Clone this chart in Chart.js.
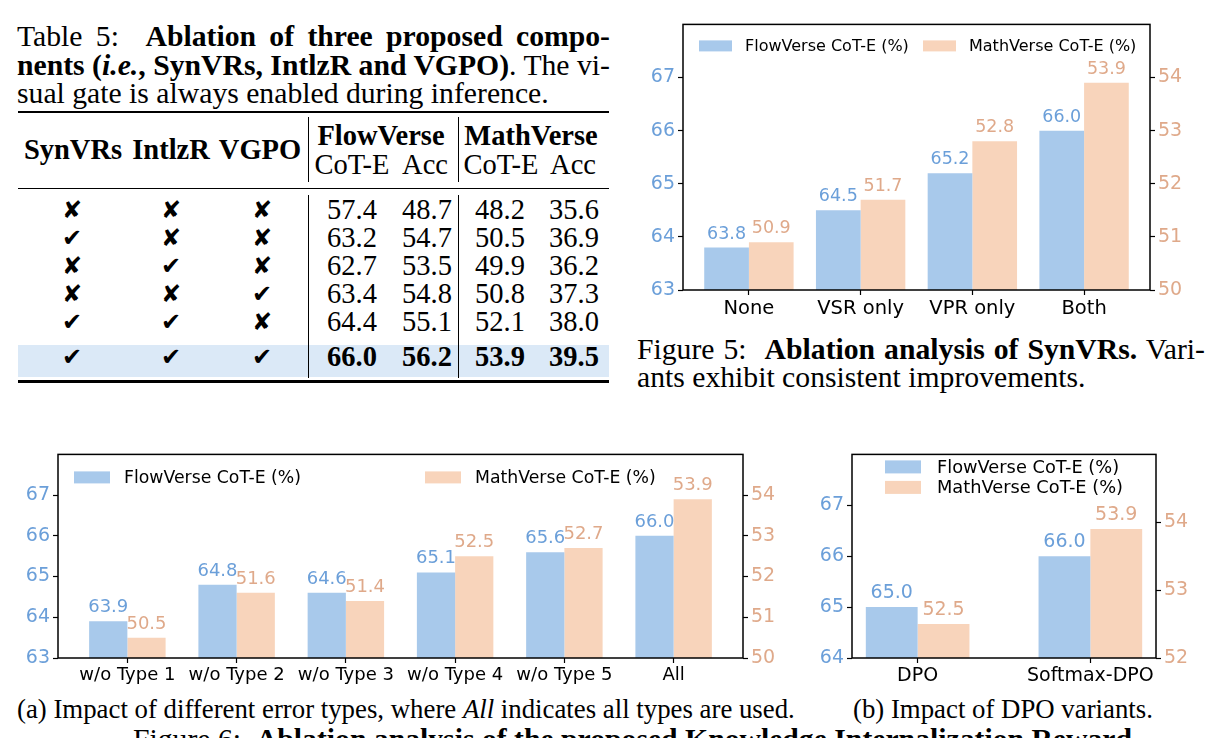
<!DOCTYPE html>
<html>
<head>
<meta charset="utf-8">
<script src="https://cdn.jsdelivr.net/npm/chart.js@4.4.1/dist/chart.umd.min.js"></script>
<style>
  body { margin: 0; background: #fff; }
  #page { position: relative; width: 1219px; height: 738px; overflow: hidden; font-family: "Liberation Serif", "Times New Roman", serif; color: #000; }
  .line { position: absolute; font-size: 29.7px; line-height: 28.5px; white-space: nowrap; }
  .just { text-align: justify; text-align-last: justify; white-space: normal; }
  .sub { font-size: 26.8px; }
  .cell { position: absolute; text-align: center; font-size: 28.5px; line-height: 28px; white-space: nowrap; }
  .mark { font-family: "DejaVu Sans", sans-serif; font-size: 24px; }
  .rule { position: absolute; background: #000; }
  canvas { position: absolute; }
</style>
</head>
<body>
<div id="page">
  <!-- Table 5 caption -->
  <div class="line just" style="left:17px; top:22px; width:593px;">Table 5:&nbsp; <b>Ablation of three proposed compo-</b></div>
  <div class="line just" style="left:17px; top:51px; width:593px;"><b>nents (<i>i.e.</i>, SynVRs, IntlzR and VGPO)</b>. The vi-</div>
  <div class="line" style="left:17px; top:79px;">sual gate is always enabled during inference.</div>

  <!-- Figure 5 caption -->
  <div class="line just" style="left:637px; top:335px; width:568px;">Figure 5:&nbsp; <b>Ablation analysis of SynVRs.</b> Vari-</div>
  <div class="line" style="left:637px; top:363px;">ants exhibit consistent improvements.</div>

  <!-- Figure 6 captions -->
  <div class="line sub" style="left:17px; top:695px;">(a) Impact of different error types, where <i>All</i> indicates all types are used.</div>
  <div class="line sub" style="left:853px; top:695px;">(b) Impact of DPO variants.</div>
  <div class="line" style="left:133px; top:725px;">Figure 6:&nbsp; <b>Ablation analysis of the proposed Knowledge Internalization Reward</b></div>

  <canvas id="synChart" width="589" height="315" style="left:630px; top:10px;"></canvas>
  <canvas id="errChart" width="800" height="255" style="left:0px; top:440px;"></canvas>
  <canvas id="dpoChart" width="419" height="255" style="left:800px; top:440px;"></canvas>
</div>

<script>
// ---- Table 5 data ----
const tableCols = ['SynVRs', 'IntlzR', 'VGPO'];
const tableChecks = [
    [0, 0, 0],
    [1, 0, 0],
    [0, 1, 0],
    [0, 0, 1],
    [1, 1, 0],
    [1, 1, 1]
];
const flowCotE = [57.4, 63.2, 62.7, 63.4, 64.4, 66.0];
const flowAcc = [48.7, 54.7, 53.5, 54.8, 55.1, 56.2];
const mathCotE = [48.2, 50.5, 49.9, 50.8, 52.1, 53.9];
const mathAcc = [35.6, 36.9, 36.2, 37.3, 38.0, 39.5];

// ---- Figure 5: SynVRs ablation ----
const synLabels = ['None', 'VSR only', 'VPR only', 'Both'];
const synFlow = [63.8, 64.5, 65.2, 66.0];
const synMath = [50.9, 51.7, 52.8, 53.9];
const synLeftTicks = [63, 64, 65, 66, 67];
const synRightTicks = [50, 51, 52, 53, 54];

// ---- Figure 6a: error types ----
const errLabels = ['w/o Type 1', 'w/o Type 2', 'w/o Type 3', 'w/o Type 4', 'w/o Type 5', 'All'];
const errFlow = [63.9, 64.8, 64.6, 65.1, 65.6, 66.0];
const errMath = [50.5, 51.6, 51.4, 52.5, 52.7, 53.9];
const errLeftTicks = [63, 64, 65, 66, 67];
const errRightTicks = [50, 51, 52, 53, 54];

// ---- Figure 6b: DPO variants ----
const dpoLabels = ['DPO', 'Softmax-DPO'];
const dpoFlow = [65.0, 66.0];
const dpoMath = [52.5, 53.9];
const dpoLeftTicks = [64, 65, 66, 67];
const dpoRightTicks = [52, 53, 54];

const seriesNames = ['FlowVerse CoT-E (%)', 'MathVerse CoT-E (%)'];

// colours
const BLUE_BAR = '#a8c9eb';
const ORANGE_BAR = '#f8d4bb';
const BLUE_TXT = '#6b9fd9';
const ORANGE_TXT = '#dfa98a';
const FONT = '"DejaVu Sans", sans-serif';

// ---- build table ----
const page = document.getElementById('page');

function addDiv(cls, style, html) {
    const d = document.createElement('div');
    d.className = cls;
    Object.assign(d.style, style);
    if (html !== undefined) d.innerHTML = html;
    page.appendChild(d);
    return d;
}

function cell(text, cx, cy, w, extra) {
    return addDiv('cell' + (extra ? ' ' + extra : ''), {
        left: (cx - w / 2) + 'px', top: (cy - 14) + 'px', width: w + 'px'
    }, text);
}

// layout of table
const checkX = [72, 171, 262];
const numX = [352, 427, 500, 574];
const rowY = [210, 238, 266, 294, 322, 357];

// highlight of last row
addDiv('rule', { left: '18px', top: '345px', width: '591px', height: '32px', background: '#dbe9f7' });
// rules
addDiv('rule', { left: '18px', top: '111px', width: '591px', height: '2px' });
addDiv('rule', { left: '18px', top: '188px', width: '591px', height: '1.3px' });
addDiv('rule', { left: '18px', top: '380px', width: '591px', height: '2.5px' });
// vertical lines
[308, 458].forEach(x => {
    addDiv('rule', { left: x + 'px', top: '117px', width: '1.2px', height: '65px' });
    addDiv('rule', { left: x + 'px', top: '195px', width: '1.2px', height: '183px' });
});

// header
const headX = [73, 171, 260];
tableCols.forEach((c, i) => cell('<b>' + c + '</b>', headX[i], 150, 110));
cell('<b>FlowVerse</b>', 381, 136, 140);
cell('<b>MathVerse</b>', 531, 136, 140);
cell('CoT-E', 352, 165, 80);
cell('Acc', 425, 165, 60);
cell('CoT-E', 501, 165, 80);
cell('Acc', 573, 165, 60);

// body
tableChecks.forEach((row, r) => {
    row.forEach((v, c) => cell(v ? '\u2714' : '\u2718', checkX[c], rowY[r], 40, 'mark'));
    const last = r === tableChecks.length - 1;
    [flowCotE, flowAcc, mathCotE, mathAcc].forEach((col, c) => {
        const t = col[r].toFixed(1);
        cell(last ? '<b>' + t + '</b>' : t, numX[c], rowY[r], 70);
    });
});

// ---- chart plugins ----
// frame around the plot area (matplotlib style spines)
const framePlugin = {
    id: 'frame',
    afterDatasetsDraw(chart) {
        const a = chart.chartArea;
        const ctx = chart.ctx;
        ctx.save();
        ctx.strokeStyle = '#000';
        ctx.lineWidth = 1.5;
        ctx.strokeRect(a.left, a.top, a.right - a.left, a.bottom - a.top);
        ctx.restore();
    }
};

// value labels above each bar
const valuePlugin = {
    id: 'values',
    afterDatasetsDraw(chart, args, opts) {
        const ctx = chart.ctx;
        ctx.save();
        ctx.font = opts.size + 'px ' + FONT;
        ctx.textAlign = 'center';
        ctx.textBaseline = 'alphabetic';
        chart.data.datasets.forEach((ds, i) => {
            ctx.fillStyle = ds.valueColor;
            chart.getDatasetMeta(i).data.forEach((bar, j) => {
                ctx.fillText(ds.data[j].y.toFixed(1), bar.x, bar.y - opts.offset);
            });
        });
        ctx.restore();
    }
};

// legend drawn inside the plot area
const insideLegend = {
    id: 'insideLegend',
    afterDatasetsDraw(chart, args, opts) {
        const a = chart.chartArea;
        const ctx = chart.ctx;
        ctx.save();
        ctx.font = opts.size + 'px ' + FONT;
        ctx.textBaseline = 'middle';
        ctx.textAlign = 'left';
        chart.data.datasets.forEach((ds, i) => {
            const p = opts.items[i];
            const x = a.left + p.x;
            const y = a.top + p.y;
            ctx.fillStyle = ds.backgroundColor;
            ctx.fillRect(x, y - opts.boxH / 2, opts.boxW, opts.boxH);
            ctx.fillStyle = '#000';
            ctx.fillText(ds.label, x + opts.boxW + opts.gap, y + 1);
        });
        ctx.restore();
    }
};

function makeChart(id, o) {
    const n = o.labels.length;
    const span = n - 1 + 2 * o.barW;
    const xMin = -o.barW - 0.05 * span;
    const xMax = n - 1 + o.barW + 0.05 * span;

    const tickGrid = { drawOnChartArea: false, drawTicks: true, tickLength: 5, tickColor: '#000', tickWidth: 1.2, offset: false };

    return new Chart(document.getElementById(id).getContext('2d'), {
        type: 'bar',
        data: {
            datasets: [
                {
                    label: seriesNames[0],
                    data: o.flow.map((v, i) => ({ x: i, y: v })),
                    backgroundColor: BLUE_BAR,
                    valueColor: BLUE_TXT,
                    yAxisID: 'y'
                },
                {
                    label: seriesNames[1],
                    data: o.math.map((v, i) => ({ x: i, y: v })),
                    backgroundColor: ORANGE_BAR,
                    valueColor: ORANGE_TXT,
                    yAxisID: 'y1'
                }
            ]
        },
        options: {
            responsive: false,
            animation: false,
            categoryPercentage: 2 * o.barW,
            barPercentage: 1.0,
            layout: { padding: { top: o.padTop, left: 0, right: 0, bottom: 0 } },
            plugins: {
                legend: { display: false },
                tooltip: { enabled: false },
                values: { size: o.valueSize, offset: 9 },
                insideLegend: o.legend
            },
            scales: {
                x: {
                    type: 'linear',
                    offset: false,
                    min: xMin,
                    max: xMax,
                    bounds: 'data',
                    afterBuildTicks: s => { s.ticks = o.labels.map((_, i) => ({ value: i })); },
                    afterFit: s => { s.height = o.xH; },
                    ticks: {
                        callback: v => o.labels[v],
                        color: '#000',
                        font: { size: o.xSize, family: FONT },
                        padding: 2,
                        maxRotation: 0,
                        autoSkip: false
                    },
                    grid: tickGrid,
                    border: { display: false }
                },
                y: {
                    position: 'left',
                    min: o.left[0],
                    max: o.left[o.left.length - 1] + 1,
                    bounds: 'data',
                    afterBuildTicks: s => { s.ticks = o.left.map(v => ({ value: v })); },
                    afterFit: s => { s.width = o.leftW; },
                    ticks: { color: BLUE_TXT, font: { size: o.tickSize, family: FONT }, padding: 3 },
                    grid: tickGrid,
                    border: { display: false }
                },
                y1: {
                    position: 'right',
                    min: o.right[0],
                    max: o.right[o.right.length - 1] + 1,
                    bounds: 'data',
                    afterBuildTicks: s => { s.ticks = o.right.map(v => ({ value: v })); },
                    afterFit: s => { s.width = o.rightW; },
                    ticks: { color: ORANGE_TXT, font: { size: o.tickSize, family: FONT }, padding: 3 },
                    grid: tickGrid,
                    border: { display: false }
                }
            }
        },
        plugins: [framePlugin, valuePlugin, insideLegend]
    });
}

makeChart('synChart', {
    labels: synLabels, flow: synFlow, math: synMath,
    left: synLeftTicks, right: synRightTicks,
    barW: 0.4, padTop: 13, xH: 35, leftW: 53, rightW: 69,
    tickSize: 19, xSize: 19.5, valueSize: 17.5,
    legend: { items: [{ x: 16, y: 21.5 }, { x: 240, y: 21.5 }], boxW: 33, boxH: 11, gap: 13, size: 16 }
});

makeChart('errChart', {
    labels: errLabels, flow: errFlow, math: errMath,
    left: errLeftTicks, right: errRightTicks,
    barW: 0.35, padTop: 13, xH: 37, leftW: 58, rightW: 57,
    tickSize: 19, xSize: 18, valueSize: 18,
    legend: { items: [{ x: 16, y: 23 }, { x: 367, y: 23 }], boxW: 36, boxH: 12, gap: 14, size: 17.3 }
});

makeChart('dpoChart', {
    labels: dpoLabels, flow: dpoFlow, math: dpoMath,
    left: dpoLeftTicks, right: dpoRightTicks,
    barW: 0.3, padTop: 13, xH: 37, leftW: 52, rightW: 63,
    tickSize: 19, xSize: 19, valueSize: 19,
    legend: { items: [{ x: 33, y: 12.5 }, { x: 33, y: 33 }], boxW: 36, boxH: 13, gap: 16, size: 17.8 }
});
</script>
</body>
</html>
